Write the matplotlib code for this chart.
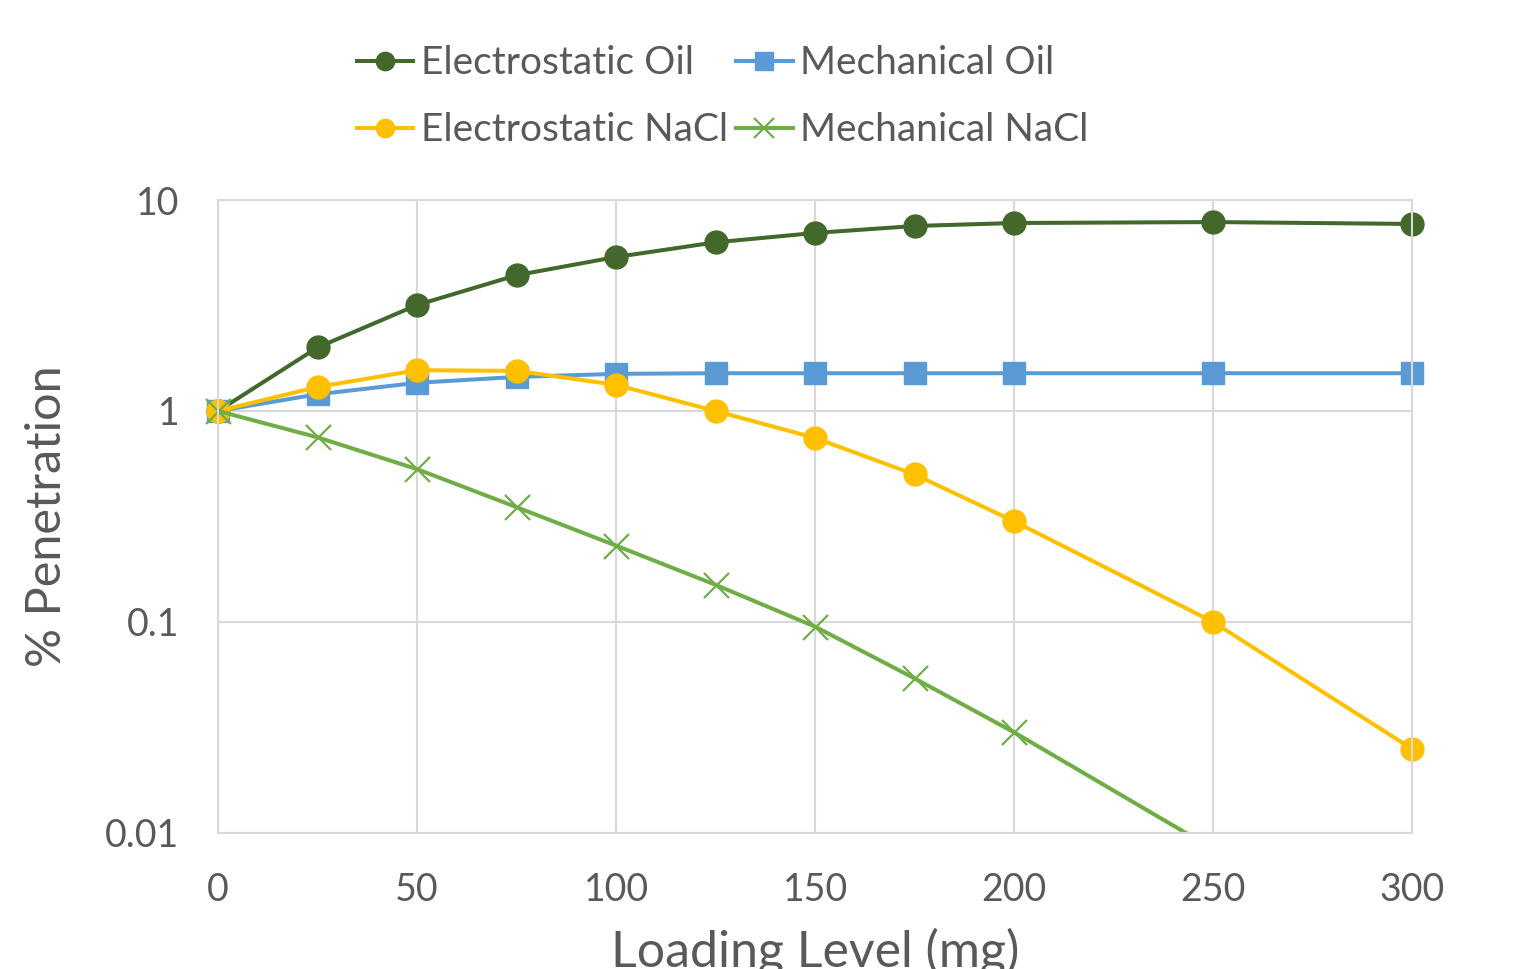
import matplotlib.pyplot as plt
from matplotlib.ticker import FixedLocator, FixedFormatter, NullLocator

plt.rcParams['font.family'] = ['Lato', 'DejaVu Sans']

loading = [0, 25, 50, 75, 100, 125, 150, 175, 200, 250, 300]
elec_oil = [1.0, 2.0, 3.18, 4.4, 5.37, 6.3, 6.98, 7.53, 7.78, 7.86, 7.7]
mech_oil = [1.0, 1.2, 1.36, 1.45, 1.5, 1.51, 1.51, 1.51, 1.51, 1.51, 1.51]
elec_nacl = [1.0, 1.3, 1.56, 1.55, 1.33, 1.0, 0.745, 0.50, 0.30, 0.10, 0.025]
mech_nacl = [1.0, 0.75, 0.53, 0.35, 0.23, 0.15, 0.095, 0.054, 0.03, 0.0084, 0.002]

x_ticks = [0, 50, 100, 150, 200, 250, 300]
y_ticks = [0.01, 0.1, 1, 10]
y_labels = ['0.01', '0.1', '1', '10']

grey = '#595959'
grid = '#D9D9D9'

fig = plt.figure(figsize=(15.25, 9.69), dpi=100)
ax = fig.add_axes([0.143, 0.1404, 0.783, 0.6532])

h1, = ax.plot(loading, elec_oil, color='#43682B', lw=2.9, marker='o', ms=16.5,
              label='Electrostatic Oil', clip_on=False)
h2, = ax.plot(loading, mech_oil, color='#5B9BD5', lw=2.9, marker='s', ms=15.5,
              label='Mechanical Oil', clip_on=False)
h3, = ax.plot(loading, elec_nacl, color='#FFC000', lw=2.9, marker='o', ms=16.5,
              label='Electrostatic NaCl', clip_on=False)
# line is clipped at the axis floor, markers inside the range drawn unclipped
ax.plot(loading, mech_nacl, color='#70AD47', lw=2.9)
vis = [(x, y) for x, y in zip(loading, mech_nacl) if y >= 0.01]
ax.plot([p[0] for p in vis], [p[1] for p in vis], ls='none', color='#70AD47',
        marker='x', ms=18, mew=1.6, clip_on=False)
h4, = ax.plot([], [], color='#70AD47', lw=2.9, marker='x', ms=18, mew=1.6,
              label='Mechanical NaCl')

ax.set_yscale('log')
ax.set_xlim(0, 300)
ax.set_ylim(0.01, 10)
ax.xaxis.set_major_locator(FixedLocator(x_ticks))
ax.yaxis.set_major_locator(FixedLocator(y_ticks))
ax.yaxis.set_major_formatter(FixedFormatter(y_labels))
ax.yaxis.set_minor_locator(NullLocator())
ax.grid(True, color=grid, lw=1.5)
ax.set_axisbelow(True)
for s in ax.spines.values():
    s.set_color(grid)
    s.set_linewidth(1.5)
ax.tick_params(length=0, labelsize=27, colors=grey)
ax.tick_params(axis='x', pad=28)
ax.tick_params(axis='y', pad=28)

ax.set_ylabel('% Penetration', fontsize=35, color=grey, labelpad=26)
ax.set_xlabel('Loading Level (mg)', fontsize=36, color=grey, labelpad=14)

fig.legend(handles=[h1, h3, h2, h4], loc='center', ncol=2,
           bbox_to_anchor=(0.474, 0.9), frameon=False, fontsize=28,
           labelcolor=grey, handlelength=1.45, handletextpad=0.2,
           columnspacing=0.2, labelspacing=0.8, markerscale=0.8)

fig.savefig('out.png', dpi=100)
